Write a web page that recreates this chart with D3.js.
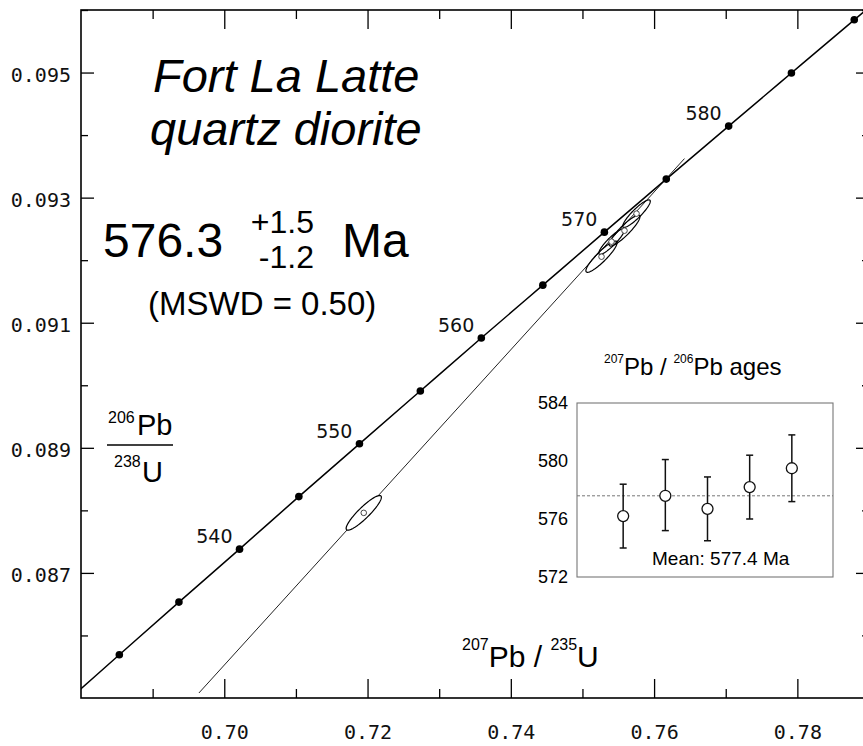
<!DOCTYPE html>
<html>
<head>
<meta charset="utf-8">
<style>
  body { margin: 0; background: #fff; }
  svg { display: block; }
</style>
</head>
<body>
<svg id="chart"></svg>
<script src="https://cdn.jsdelivr.net/npm/d3@7"></script>
<script>
// concordia age marks (Ma) and their ratios
const concAges = [525, 530, 535, 540, 545, 550, 555, 560, 565, 570, 575, 580, 585, 590, 595];
const concX = [0.67705, 0.68535, 0.69367, 0.70213, 0.71041, 0.71887, 0.72737, 0.73588,
               0.74447, 0.75306, 0.76170, 0.77041, 0.77917, 0.78794, 0.79676];
const concY = [0.084849, 0.085691, 0.086533, 0.08738, 0.08822, 0.089064, 0.089909, 0.090755,
               0.091601, 0.092448, 0.093296, 0.094144, 0.094993, 0.095843, 0.096693];
const labelAges = [540, 550, 560, 570, 580];

// zircon analyses: 207Pb/235U, 206Pb/238U, 2 sigma errors, error correlation
const anaX = [0.71947, 0.75266, 0.75406, 0.75587, 0.75755];
const anaY = [0.08796, 0.092056, 0.092296, 0.092472, 0.092744];
const anaSx = [0.00246, 0.00218, 0.00178, 0.00215, 0.00192];
const anaSy = [0.000277, 0.00025, 0.000204, 0.000246, 0.00022];
const anaRho = [0.9, 0.9, 0.9, 0.9, 0.9];

// discordia line end points
const discX = [0.69646, 0.76424];
const discY = [0.08508, 0.093624];

const xMajor = [0.70, 0.72, 0.74, 0.76, 0.78];
const xMinor = [0.69, 0.71, 0.73, 0.75, 0.77, 0.79];
const yMajor = [0.087, 0.089, 0.091, 0.093, 0.095];
const yMinor = [0.086, 0.088, 0.090, 0.092, 0.094, 0.096];

// inset: 207Pb/206Pb ages
const insetAges = [576.2, 577.6, 576.7, 578.2, 579.5];
const insetLo = [574.0, 575.2, 574.5, 576.0, 577.2];
const insetHi = [578.4, 580.1, 578.9, 580.4, 581.8];
const insetTicks = [572, 576, 580, 584];
const meanLine = 577.6;

const width = 863, height = 746;
const svg = d3.select("#chart").attr("width", width).attr("height", height)
  .style("font-family", "'Liberation Sans', Arial, sans-serif");

const x = d3.scaleLinear().domain([0.68, 0.79]).range([81, 869]);
const y = d3.scaleLinear().domain([0.085, 0.096]).range([698, 10]);

svg.append("clipPath").attr("id", "plot")
  .append("rect").attr("x", 81).attr("y", 10).attr("width", 788).attr("height", 688);

const monoFont = "'DejaVu Sans Mono', monospace";

// axes: major ticks with labels, minor ticks without
function styleAxis(g) {
  g.select(".domain").remove();
  g.selectAll("line").attr("stroke", "#000").attr("stroke-width", 1.3);
  g.selectAll("text").attr("font-family", monoFont).attr("font-size", 20).attr("fill", "#111");
}
svg.append("g").attr("transform", "translate(81,0)")
  .call(d3.axisLeft(y).tickValues(yMajor).tickSize(-13).tickPadding(10).tickFormat(d3.format(".3f")))
  .call(styleAxis)
  .call(g => g.selectAll("text").attr("dy", "0.45em"));
svg.append("g").attr("transform", "translate(81,0)")
  .call(d3.axisLeft(y).tickValues(yMinor).tickSize(-7).tickFormat(""))
  .call(styleAxis);
svg.append("g").attr("transform", "translate(869,0)")
  .call(d3.axisRight(y).tickValues(yMajor).tickSize(-13).tickFormat(""))
  .call(styleAxis);
svg.append("g").attr("transform", "translate(869,0)")
  .call(d3.axisRight(y).tickValues(yMinor).tickSize(-7).tickFormat(""))
  .call(styleAxis);
svg.append("g").attr("transform", "translate(0,698)")
  .call(d3.axisBottom(x).tickValues(xMajor).tickSize(-19).tickPadding(27).tickFormat(d3.format(".2f")))
  .call(styleAxis);
svg.append("g").attr("transform", "translate(0,698)")
  .call(d3.axisBottom(x).tickValues(xMinor).tickSize(-9).tickFormat(""))
  .call(styleAxis);
svg.append("g").attr("transform", "translate(0,10)")
  .call(d3.axisTop(x).tickValues(xMajor).tickSize(-19).tickFormat(""))
  .call(styleAxis);
svg.append("g").attr("transform", "translate(0,10)")
  .call(d3.axisTop(x).tickValues(xMinor).tickSize(-9).tickFormat(""))
  .call(styleAxis);

// frame
svg.append("rect").attr("x", 81).attr("y", 10).attr("width", 788).attr("height", 688)
  .attr("fill", "none").attr("stroke", "#000").attr("stroke-width", 1.6);

const plot = svg.append("g").attr("clip-path", "url(#plot)");

// discordia
plot.append("line")
  .attr("x1", x(discX[0])).attr("y1", y(discY[0]))
  .attr("x2", x(discX[1])).attr("y2", y(discY[1]))
  .attr("stroke", "#222").attr("stroke-width", 1);

// concordia
const conc = concAges.map((a, i) => ({ age: a, x: concX[i], y: concY[i] }));
plot.append("path").datum(conc)
  .attr("d", d3.line().x(d => x(d.x)).y(d => y(d.y)).curve(d3.curveCatmullRom))
  .attr("fill", "none").attr("stroke", "#000").attr("stroke-width", 1.5);
plot.append("g").selectAll("circle").data(conc).join("circle")
  .attr("cx", d => x(d.x)).attr("cy", d => y(d.y)).attr("r", 3.8).attr("fill", "#000");
plot.append("g").selectAll("text").data(conc.filter(d => labelAges.includes(d.age))).join("text")
  .attr("x", d => x(d.x) - 7).attr("y", d => y(d.y) - 6)
  .attr("text-anchor", "end").attr("font-family", "'DejaVu Sans', sans-serif").attr("font-size", 19)
  .attr("fill", "#111")
  .text(d => d.age);

// error ellipses
const ana = anaX.map((v, i) => ({ x: v, y: anaY[i], sx: anaSx[i], sy: anaSy[i], rho: anaRho[i] }));
const angles = d3.range(0, 360, 4).map(a => a * Math.PI / 180);
const ellipse = d => d3.line().curve(d3.curveLinearClosed)(angles.map(t => [
  x(d.x + d.sx * Math.cos(t)),
  y(d.y + d.sy * (d.rho * Math.cos(t) + Math.sqrt(1 - d.rho * d.rho) * Math.sin(t)))
]));
// white out the discordia inside the lone ellipse
plot.append("path").datum(ana[0]).attr("d", ellipse).attr("fill", "#fff");
plot.append("g").selectAll("path").data(ana).join("path")
  .attr("d", ellipse).attr("fill", "none")
  .attr("stroke", "#000").attr("stroke-width", 1.2);
plot.append("g").selectAll("circle").data(ana).join("circle")
  .attr("cx", d => x(d.x)).attr("cy", d => y(d.y)).attr("r", 2.8)
  .attr("fill", "#fff").attr("stroke", "#333").attr("stroke-width", 0.9);

// titles and labels
svg.append("text").attr("x", 153).attr("y", 92).attr("font-size", 47).attr("font-style", "italic")
  .text("Fort La Latte");
svg.append("text").attr("x", 150).attr("y", 145).attr("font-size", 47).attr("font-style", "italic")
  .text("quartz diorite");
svg.append("text").attr("x", 103).attr("y", 257).attr("font-size", 48).text("576.3");
svg.append("text").attr("x", 314).attr("y", 233).attr("font-size", 32).attr("text-anchor", "end").text("+1.5");
svg.append("text").attr("x", 314).attr("y", 268).attr("font-size", 32).attr("text-anchor", "end").text("-1.2");
svg.append("text").attr("x", 342).attr("y", 257).attr("font-size", 48).text("Ma");
svg.append("text").attr("x", 148).attr("y", 315).attr("font-size", 33).text("(MSWD = 0.50)");

// y axis title as a fraction
svg.append("text").attr("x", 108).attr("y", 423).attr("font-size", 16).text("206");
svg.append("text").attr("x", 137).attr("y", 435).attr("font-size", 29).text("Pb");
svg.append("line").attr("x1", 107).attr("x2", 173).attr("y1", 445).attr("y2", 445)
  .attr("stroke", "#000").attr("stroke-width", 1.5);
svg.append("text").attr("x", 114).attr("y", 467).attr("font-size", 16).text("238");
svg.append("text").attr("x", 142).attr("y", 482).attr("font-size", 29).text("U");

// x axis title
const xt = svg.append("text").attr("x", 462).attr("y", 667).attr("font-size", 30);
xt.append("tspan").attr("font-size", 16).attr("dy", -17).text("207");
xt.append("tspan").attr("dy", 17).text("Pb / ");
xt.append("tspan").attr("font-size", 16).attr("dy", -17).text("235");
xt.append("tspan").attr("dy", 17).text("U");

// inset
const ix = d3.scaleLinear().domain([0, 6]).range([581, 834]);
const iy = d3.scaleLinear().domain([572, 584]).range([577, 403]);
const inset = svg.append("g");
inset.append("rect").attr("x", 577).attr("y", 403).attr("width", 256).attr("height", 174)
  .attr("fill", "#fff").attr("stroke", "#777").attr("stroke-width", 1.1);
inset.append("g").selectAll("text").data(insetTicks).join("text")
  .attr("x", 568).attr("y", d => iy(d)).attr("dy", "0.35em").attr("text-anchor", "end")
  .attr("font-size", 18).text(d => d);
inset.append("line").attr("x1", 577).attr("x2", 833).attr("y1", iy(meanLine)).attr("y2", iy(meanLine))
  .attr("stroke", "#777").attr("stroke-width", 1).attr("stroke-dasharray", "3,2");
const pts = insetAges.map((a, i) => ({ i: i + 1, age: a, lo: insetLo[i], hi: insetHi[i] }));
const bars = inset.append("g").attr("stroke", "#111").attr("stroke-width", 1.5);
bars.selectAll(".v").data(pts).join("line").attr("class", "v")
  .attr("x1", d => ix(d.i)).attr("x2", d => ix(d.i)).attr("y1", d => iy(d.lo)).attr("y2", d => iy(d.hi));
bars.selectAll(".t").data(pts).join("line").attr("class", "t")
  .attr("x1", d => ix(d.i) - 3.5).attr("x2", d => ix(d.i) + 3.5).attr("y1", d => iy(d.hi)).attr("y2", d => iy(d.hi));
bars.selectAll(".b").data(pts).join("line").attr("class", "b")
  .attr("x1", d => ix(d.i) - 3.5).attr("x2", d => ix(d.i) + 3.5).attr("y1", d => iy(d.lo)).attr("y2", d => iy(d.lo));
inset.append("g").selectAll("circle").data(pts).join("circle")
  .attr("cx", d => ix(d.i)).attr("cy", d => iy(d.age)).attr("r", 5.5)
  .attr("fill", "#fff").attr("stroke", "#111").attr("stroke-width", 1.3);
inset.append("text").attr("x", 652).attr("y", 565).attr("font-size", 19).text("Mean: 577.4 Ma");
const it = inset.append("text").attr("x", 604).attr("y", 375).attr("font-size", 24);
it.append("tspan").attr("font-size", 12).attr("dy", -12).text("207");
it.append("tspan").attr("dy", 12).text("Pb / ");
it.append("tspan").attr("font-size", 12).attr("dy", -12).text("206");
it.append("tspan").attr("dy", 12).text("Pb ages");
</script>
</body>
</html>
